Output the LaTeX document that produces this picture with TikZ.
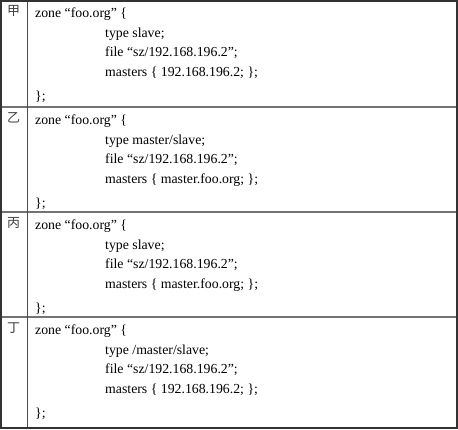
\documentclass[tikz,border=0pt]{standalone}
\usepackage{fontspec}
\setmainfont{Liberation Serif}
\newfontfamily\cjk{Noto Sans CJK SC}
\begin{document}
\begin{tikzpicture}[x=1pt,y=-1pt,
  code/.style={anchor=base west,inner sep=0pt,font=\fontsize{13.8}{16}\selectfont},
  lab/.style={anchor=center,inner sep=0pt,text=black!75,font=\cjk\fontsize{13}{14}\selectfont},
  inner/.style={draw=black!55,line width=1.2pt},
  outer/.style={draw=black!80,line width=2pt}]
\useasboundingbox (0,0) rectangle (458,429);
\fill[white] (0,0) rectangle (458,429);
% grid
\draw[inner] (0,107) -- (457,107);
\draw[inner] (0,212) -- (457,212);
\draw[inner] (0,317) -- (457,317);
\draw[draw=black!70,line width=1pt] (27.5,0) -- (27.5,428);
\draw[outer] (1,1) rectangle (456.5,427.5);
% rows
\foreach \t/\ty/\m/\lbl/\n in {0/slave/192.168.196.2/甲/a,
  107/master\slash slave/master.foo.org/乙/b,
  212/slave/master.foo.org/丙/c,
  317/\slash master\slash slave/192.168.196.2/丁/d}{
  \node[lab] (\n-lab) at (13.5,\t+11) {\lbl};
  \node[code] (\n-1) at (35,\t+17) {zone “foo.org” \{};
  \node[code] (\n-2) at (105,\t+37) {type \ty;};
  \node[code] (\n-3) at (105,\t+56) {file “sz/192.168.196.2”;};
  \node[code] (\n-4) at (105,\t+76) {masters \{ \m; \};};
  \node[code] (\n-5) at (35,\t+100) {\};};
}
\end{tikzpicture}
\end{document}
